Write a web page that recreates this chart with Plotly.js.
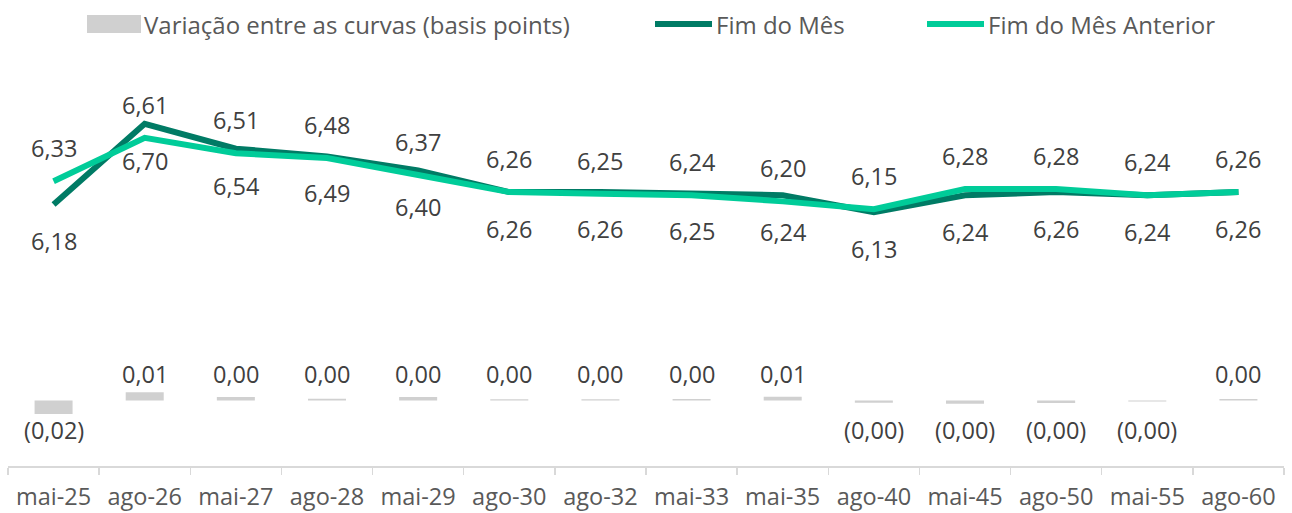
<!DOCTYPE html>
<html>
<head>
<meta charset="utf-8">
<script src="https://cdn.plot.ly/plotly-3.0.1.min.js"></script>
<style>html,body{margin:0;padding:0;background:#fff;}#chart{width:1292px;height:513px;}</style>
</head>
<body>
<div id="chart"></div>
<script>
var categories = ['mai-25','ago-26','mai-27','ago-28','mai-29','ago-30','ago-32','mai-33','mai-35','ago-40','mai-45','ago-50','mai-55','ago-60'];
var fimDoMes = [6.18,6.70,6.54,6.49,6.40,6.26,6.26,6.25,6.24,6.13,6.24,6.26,6.24,6.26];
var fimDoMesAnterior = [6.33,6.61,6.51,6.48,6.37,6.26,6.25,6.24,6.20,6.15,6.28,6.28,6.24,6.26];
var variacao = [-0.0185,0.0112,0.0047,0.0025,0.0047,0.0016,0.0016,0.0020,0.0053,-0.0030,-0.0045,-0.0035,-0.0015,0.0020];
var legendNames = ['Variação entre as curvas (basis points)','Fim do Mês','Fim do Mês Anterior'];

var DARK = '#007B65', LIGHT = '#00CC99', GRAY = '#D0D0D0';
function fmt(v){ var s = Math.abs(v).toFixed(2).replace('.', ','); return v < 0 ? '(' + s + ')' : s; }

var traces = [
  {type:'bar', x:categories, y:variacao, yaxis:'y2', marker:{color:GRAY}, showlegend:false, hoverinfo:'skip'},
  {type:'scatter', mode:'lines', x:categories, y:fimDoMes, line:{color:DARK, width:6}, showlegend:false},
  {type:'scatter', mode:'lines', x:categories, y:fimDoMesAnterior, line:{color:LIGHT, width:6}, showlegend:false}
];

var labelFont = {family:'Open Sans', size:23.5, color:'#404040'};
var annotations = [];
categories.forEach(function(c, i){
  annotations.push({x:c, y:fimDoMesAnterior[i], xref:'x', yref:'y', text:fmt(fimDoMesAnterior[i]), showarrow:false, yshift:33, font:labelFont});
  annotations.push({x:c, y:fimDoMes[i], xref:'x', yref:'y', text:fmt(fimDoMes[i]), showarrow:false, yshift:-37, font:labelFont});
  annotations.push({x:c, y:0, xref:'x', yref:'y2', text:fmt(variacao[i]), showarrow:false, yshift: variacao[i] >= 0 ? 27 : -29, font:labelFont});
});

// custom legend (paper coords: plot spans x 8..1284, y 60..466)
function px(x){ return (x - 8) / 1276; }
function py(y){ return (466 - y) / 406; }
var legFont = {family:'Open Sans', size:24, color:'#595959'};
annotations.push({xref:'paper', yref:'paper', x:px(142), y:py(24), xanchor:'left', yanchor:'middle', text:legendNames[0], showarrow:false, font:legFont});
annotations.push({xref:'paper', yref:'paper', x:px(714), y:py(24), xanchor:'left', yanchor:'middle', text:legendNames[1], showarrow:false, font:legFont});
annotations.push({xref:'paper', yref:'paper', x:px(986), y:py(24), xanchor:'left', yanchor:'middle', text:legendNames[2], showarrow:false, font:legFont});

var shapes = [
  {type:'rect', xref:'paper', yref:'paper', x0:px(87), x1:px(141), y0:py(33), y1:py(15), fillcolor:GRAY, line:{width:0}},
  {type:'line', xref:'paper', yref:'paper', x0:px(655), x1:px(712), y0:py(24), y1:py(24), line:{color:DARK, width:6}},
  {type:'line', xref:'paper', yref:'paper', x0:px(927), x1:px(984), y0:py(24), y1:py(24), line:{color:LIGHT, width:6}}
];

var layout = {
  width:1292, height:513,
  margin:{l:8, r:8, t:60, b:47},
  paper_bgcolor:'#ffffff', plot_bgcolor:'#ffffff',
  showlegend:false,
  bargap:0.583,
  xaxis:{type:'category', showgrid:false, zeroline:false, showline:true, linecolor:'#D9D9D9', linewidth:1.5,
         ticks:'outside', ticklen:7, tickcolor:'#D9D9D9', tickwidth:1.5, tickson:'boundaries',
         ticklabelstandoff:9, automargin:false,
         tickfont:{family:'Open Sans', size:23.5, color:'#595959'}, fixedrange:true},
  yaxis:{range:[4.493, 7.112], visible:false, fixedrange:true},
  yaxis2:{range:[-0.0897, 0.4664], overlaying:'y', side:'right', visible:false, fixedrange:true},
  annotations:annotations,
  shapes:shapes
};

Plotly.newPlot('chart', traces, layout, {displayModeBar:false, staticPlot:true});
</script>
</body>
</html>
